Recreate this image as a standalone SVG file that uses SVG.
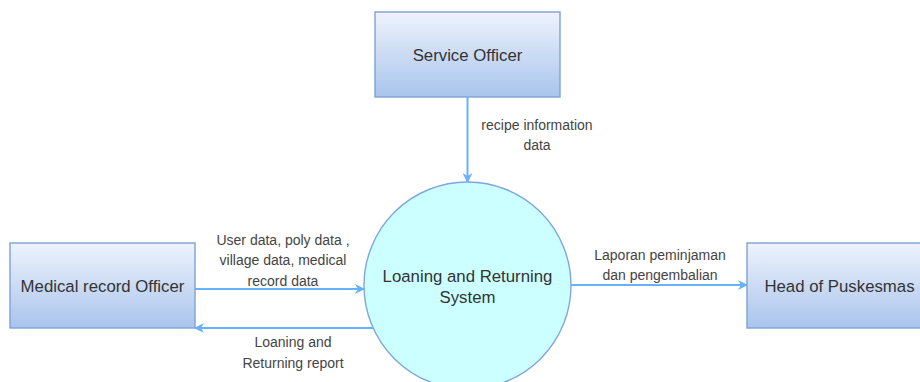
<svg xmlns="http://www.w3.org/2000/svg" width="920" height="382" viewBox="0 0 920 382">
<defs>
<linearGradient id="boxg" x1="0" y1="0" x2="0" y2="1">
<stop offset="0" stop-color="#eef3fc"/>
<stop offset="1" stop-color="#a9c4ec"/>
</linearGradient>
<marker id="arr" viewBox="0 0 10 10" refX="9" refY="5" markerWidth="10" markerHeight="10" markerUnits="userSpaceOnUse" orient="auto">
<path d="M0,0 L10,5 L0,10 L3,5 Z" fill="#66b2ff"/>
</marker>
<style>
.box{fill:url(#boxg);stroke:#7fa1d3;stroke-width:1.4}
.circ{fill:#ccffff;stroke:#7ea6e0;stroke-width:1.4}
.nt{font-family:"Liberation Sans",Arial,sans-serif;font-size:16.8px;fill:#333;text-anchor:middle}
.et{font-family:"Liberation Sans",Arial,sans-serif;font-size:14px;fill:#444;text-anchor:middle}
.ln{stroke:#66b2ff;stroke-width:2;fill:none;marker-end:url(#arr)}
</style>
</defs>
<rect width="920" height="382" fill="#ffffff"/>
<g id="connectors">
<line class="ln" x1="467.5" y1="97" x2="467.5" y2="182"/>
<line class="ln" x1="195" y1="289" x2="364" y2="289"/>
<line class="ln" x1="373" y1="328" x2="195" y2="328"/>
<line class="ln" x1="571" y1="285" x2="747" y2="285"/>
<text class="et" x="537" y="130">recipe information</text>
<text class="et" x="537" y="150">data</text>
<text class="et" x="283" y="245">User data, poly data ,</text>
<text class="et" x="283" y="265">village data, medical</text>
<text class="et" x="283" y="286">record data</text>
<text class="et" x="293" y="347">Loaning and</text>
<text class="et" x="293" y="368">Returning report</text>
<text class="et" x="660" y="260">Laporan peminjaman</text>
<text class="et" x="660" y="280">dan pengembalian</text>
</g>
<g id="service-officer">
<rect class="box" x="375" y="12" width="185" height="85"/>
<text class="nt" x="467.5" y="60.5">Service Officer</text>
</g>
<g id="medical-record-officer">
<rect class="box" x="10" y="243" width="185" height="85"/>
<text class="nt" x="102.5" y="291.5">Medical record Officer</text>
</g>
<g id="head-of-puskesmas">
<rect class="box" x="747" y="243" width="185" height="85"/>
<text class="nt" x="839.5" y="291.5">Head of Puskesmas</text>
</g>
<g id="system">
<circle class="circ" cx="467.5" cy="285.5" r="103.5"/>
<text class="nt" x="467.5" y="282">Loaning and Returning</text>
<text class="nt" x="467.5" y="303">System</text>
</g>
</svg>
